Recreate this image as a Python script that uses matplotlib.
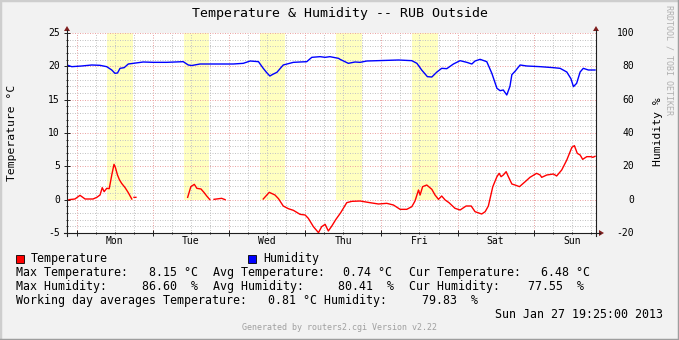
import numpy as np
import matplotlib
matplotlib.use("Agg")
import matplotlib.pyplot as plt
from matplotlib.patches import Rectangle, Polygon
from matplotlib.lines import Line2D

nan = np.nan

# ====== Data (hours since Monday 00:00) ======
temp_hours = [-2.4, -0.5, 1.1, 2.7, 5.2, 6.4, 7.4, 8.1, 8.7, 9.5, 10.3, 11.1, 11.8, 12.2,
              12.9, 13.5, 14.2, 15.3, 16.3, 17.4, 17.8,
              18.1, 18.7, 19.0,
              35.0, 36.0, 37.1, 37.9, 39.2, 40.2, 41.0, 42.0, 42.5,
              43.3, 45.7, 46.8, 47.5,
              58.8, 60.7, 62.5, 63.6, 65.1, 66.7, 68.3, 70.4, 72.0, 73.0, 74.6, 76.2,
              77.2, 78.3, 79.3, 80.4, 81.7, 83.2, 85.1, 86.7, 89.3, 92.4, 95.1, 97.7,
              99.8, 101.9, 104.0, 105.6, 106.6, 107.7, 108.2, 109.0, 110.3, 111.9, 112.9,
              114.0, 115.0, 116.1, 117.3, 119.2, 120.8, 122.7, 124.3, 125.5, 127.6, 128.7,
              129.7, 131.1, 132.4, 133.1, 133.7, 134.4, 135.3, 136.0, 137.1, 138.1, 139.5,
              141.3, 142.8, 144.9, 146.0, 146.5, 148.1, 150.2, 151.2, 152.8, 154.4, 156.0,
              156.8, 157.7, 158.6, 159.4, 160.7, 162.0, 162.6, 163.3]
temp_values = [0.0, 0.1, 0.65, 0.1, 0.1, 0.35, 0.7, 1.8, 1.2, 1.7, 1.65, 3.7, 5.3, 4.9,
               3.7, 3.0, 2.45, 1.8, 1.05, 0.1, nan,
               0.35, 0.35, nan,
               0.35, 1.95, 2.3, 1.7, 1.6, 1.05, 0.55, 0.0, nan,
               0.05, 0.2, 0.0, nan,
               0.1, 1.1, 0.7, 0.15, -0.95, -1.35, -1.6, -2.2, -2.3, -2.8, -4.05, -4.95,
               -4.05, -3.7, -4.7, -3.95, -2.95, -1.95, -0.45, -0.25, -0.2, -0.45, -0.65, -0.55,
               -0.8, -1.45, -1.45, -1.05, -0.2, 1.45, 0.7, 1.95, 2.2, 1.55, 0.7,
               0.05, 0.55, -0.05, -0.45, -1.3, -1.55, -0.95, -0.95, -1.8, -2.15, -1.8,
               -0.95, 1.95, 3.45, 3.95, 3.45, 3.7, 4.2, 3.45, 2.35, 2.2, 1.95,
               2.7, 3.35, 3.95, 3.7, 3.35, 3.7, 3.85, 3.55, 4.45, 5.95, 7.85,
               8.1, 6.95, 6.7, 6.05, 6.45, 6.45, 6.35, 6.5]

hum_hours = [-3.0, -1.5, 1.6, 4.8, 7.4, 9.5, 11.1, 12.1, 12.9, 13.7, 15.0, 16.3, 17.9,
             21.0, 24.2, 28.4, 33.6, 35.2, 36.3, 38.9, 43.1, 49.4, 52.5, 54.7, 57.3,
             58.8, 59.9, 60.9, 61.8, 63.1, 65.1, 68.3, 72.5, 74.1, 76.7, 78.3, 79.8,
             82.5, 83.0, 85.6, 87.7, 89.3, 91.4, 101.4, 105.6, 107.2, 108.7, 110.5,
             111.9, 113.5, 115.0, 116.6, 118.7, 120.8, 122.9, 124.5, 125.5, 127.1,
             129.2, 130.8, 132.4, 133.4, 134.4, 135.5, 136.5, 137.1, 138.1, 139.7,
             141.8, 146.0, 150.2, 152.3, 154.4, 155.7, 156.5, 157.5, 158.6, 159.6,
             161.2, 163.3]
hum_values = [80.8, 79.8, 80.2, 80.8, 80.6, 79.8, 77.8, 75.8, 76.0, 78.8, 79.2, 81.4, 81.8,
              82.6, 82.4, 82.4, 82.8, 80.8, 80.5, 81.4, 81.4, 81.4, 81.8, 83.2, 82.8,
              78.8, 76.2, 74.2, 75.2, 76.4, 80.8, 82.4, 82.8, 85.4, 85.8, 85.4, 85.8,
              84.8, 84.2, 81.8, 82.6, 82.4, 83.2, 83.8, 83.4, 81.8, 77.8, 73.8,
              73.6, 76.6, 78.8, 78.6, 81.4, 83.4, 82.4, 81.4, 83.2, 84.2,
              82.8, 75.8, 66.8, 65.4, 65.8, 62.8, 68.0, 75.0, 77.0, 80.8,
              80.2, 79.8, 79.2, 78.8, 76.6, 72.6, 67.8, 69.8, 76.6, 78.8,
              77.8, 77.8]

day_labels = ["Mon", "Tue", "Wed", "Thu", "Fri", "Sat", "Sun"]
work_days = [0, 1, 2, 3, 4]
work_start, work_end = 9.75, 17.75
temp_ticks = [-5, 0, 5, 10, 15, 20, 25]
hum_ticks = [-20, 0, 20, 40, 60, 80, 100]

stat_rows = [
    [(16, "Max Temperature:"), (149, "8.15 °C"), (213, "Avg Temperature:"),
     (343, "0.74 °C"), (409, "Cur Temperature:"), (541, "6.48 °C")],
    [(16, "Max Humidity:"), (142.5, "86.60  %"), (213, "Avg Humidity:"),
     (338.5, "80.41  %"), (409, "Cur Humidity:"), (528, "77.55  %")],
    [(16, "Working day averages Temperature:"), (268, "0.81 °C Humidity:"),
     (421.5, "79.83  %")],
]

# ====== Layout (pixel helpers) ======
W, H = 679, 340
def fx(px):
    return px / W
def fy(py):
    return 1 - py / H

BACK = "#f2f2f2"
AXIS = "#1f1f1f"
ARROW = "#801f1f"
GRID = "#c4c4c4"
MGRID = "#eba5a5"
MONO = "DejaVu Sans Mono"

plt.rcParams["font.family"] = MONO

fig = plt.figure(figsize=(W / 100, H / 100), dpi=100, facecolor=BACK)
ax = fig.add_axes([fx(67), fy(233), (596 - 67) / W, 200 / H])
ax2 = ax.twinx()

ax.set_xlim(-3.0, 163.6)
ax.set_ylim(-5, 25)
ax2.set_ylim(-20, 100)

# working-hours bands
for d in work_days:
    xs = [d * 24 + work_start, d * 24 + work_end]
    ax.fill_between(xs, 0, 25, color="#ffffc0", lw=0, zorder=0.3)

# grid
ax.set_axisbelow(True)
ax.set_xticks(np.arange(0, 164, 24))
ax.set_xticks(np.arange(-0, 164, 6), minor=True)
ax.set_yticks(temp_ticks)
ax.set_yticks(np.arange(-5, 26, 1), minor=True)
ax.grid(which="minor", color=GRID, lw=0.72, linestyle=(0, (1, 1.5)))
ax.grid(which="major", color=MGRID, lw=0.72, linestyle=(0, (1, 1.5)))
ax.tick_params(which="both", labelleft=False, labelbottom=False, color=AXIS,
               direction="inout", width=0.7)
ax.tick_params(which="major", length=4)
ax.tick_params(which="minor", length=2)
ax2.set_yticks(hum_ticks)
ax2.tick_params(which="both", labelright=False, length=0)
for a in (ax, ax2):
    for s in a.spines.values():
        s.set_visible(False)

# series
ax.plot(temp_hours, temp_values, color="#ff0000", lw=1.0, zorder=2)
ax2.plot(hum_hours, hum_values, color="#0000ff", lw=1.0, zorder=2)

# tick labels
for v in temp_ticks:
    ax.text(-7 / 529, v, str(v), transform=ax.get_yaxis_transform(),
            ha="right", va="center", fontsize=7)
for v in hum_ticks:
    ax2.text(1 + 38 / 529, v, str(v), transform=ax2.get_yaxis_transform(),
             ha="right", va="center", fontsize=7)
for i, lab in enumerate(day_labels):
    ax.text(i * 24 + 12, -8 / 200, lab, transform=ax.get_xaxis_transform(),
            ha="center", va="center", fontsize=7)

# axis lines and arrows
for x0 in (67, 596):
    fig.add_artist(Line2D([fx(x0), fx(x0)], [fy(236), fy(30)], color=AXIS, lw=0.8))
    fig.add_artist(Polygon([[fx(x0 - 3), fy(31)], [fx(x0 + 3), fy(31)], [fx(x0), fy(26)]],
                           closed=True, color=ARROW, lw=0))
fig.add_artist(Line2D([fx(64), fx(600)], [fy(233), fy(233)], color=AXIS, lw=0.8))
fig.add_artist(Polygon([[fx(599), fy(230)], [fx(599), fy(236)], [fx(604), fy(233)]],
                       closed=True, color=ARROW, lw=0))

# titles
fig.text(fx(339.5), fy(14), "Temperature & Humidity -- RUB Outside", ha="center",
         va="center", fontsize=9.5)
fig.text(fx(12), fy(133), "Temperature °C", rotation=90, ha="center", va="center",
         fontsize=8.2)
fig.text(fx(658), fy(132), "Humidity %", rotation=90, ha="center", va="center",
         fontsize=8.2)
fig.text(fx(669), fy(60), "RRDTOOL / TOBI OETIKER", rotation=-90, ha="center",
         va="center", fontsize=6, color="#b0b0b0")

# legend
fig.add_artist(Rectangle((fx(16), fy(263)), 8 / W, 8 / H, facecolor="#ff0000",
                         edgecolor="#000000", lw=0.6))
fig.text(fx(31), fy(258.5), "Temperature", va="center", fontsize=8.4)
fig.add_artist(Rectangle((fx(248), fy(263)), 8 / W, 8 / H, facecolor="#0000ff",
                         edgecolor="#000000", lw=0.6))
fig.text(fx(263), fy(258.5), "Humidity", va="center", fontsize=8.4)
for r, row in enumerate(stat_rows):
    for x0, txt in row:
        fig.text(fx(x0), fy(272.5 + 14 * r), txt, va="center", fontsize=8.4)
fig.text(fx(663), fy(314.5), "Sun Jan 27 19:25:00 2013", ha="right", va="center",
         fontsize=8.4)
fig.text(fx(340), fy(328), "Generated by routers2.cgi Version v2.22", ha="center",
         va="center", fontsize=6, color="#a0a0a0")

# 3d border
fig.add_artist(Line2D([0, 0, 1], [0, 1, 1], transform=fig.transFigure,
                      color="#cecece", lw=2.5))
fig.add_artist(Line2D([0, 1, 1], [0, 0, 1], transform=fig.transFigure,
                      color="#9e9e9e", lw=2.5))

fig.savefig("out.png", dpi=100, facecolor=BACK)
